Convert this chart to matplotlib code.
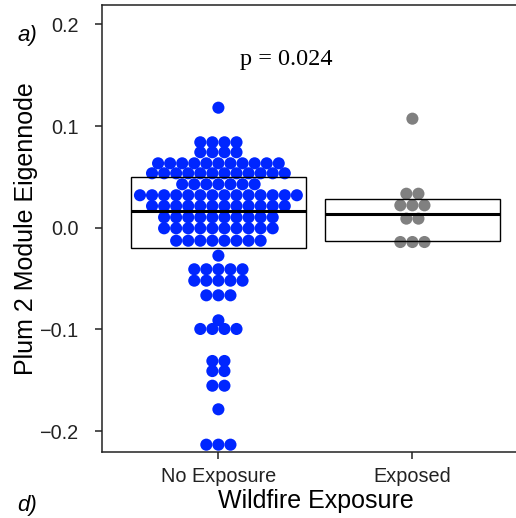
import numpy as np
import matplotlib
matplotlib.use("Agg")
import matplotlib.pyplot as plt

plt.rcParams['font.family'] = ['Liberation Sans', 'DejaVu Sans']

groups = ["No Exposure", "Exposed"]
colors = ["#0026ff", "#808080"]

# eigennode values (one entry per dot)
no_exposure = ([0.118] * 1 + [0.084] * 4 + [0.0742] * 4 + [0.0633] * 11 +
               [0.0535] * 12 + [0.0427] * 7 + [0.0319] * 14 + [0.0213] * 12 +
               [0.0102] * 10 + [-0.0006] * 10 + [-0.0128] * 8 + [-0.0275] * 1 +
               [-0.0409] * 5 + [-0.0521] * 5 + [-0.0665] * 3 + [-0.0911] * 1 +
               [-0.0996] * 4 + [-0.1311] * 2 + [-0.141] * 2 + [-0.1554] * 2 +
               [-0.1786] * 1 + [-0.2134] * 3)
exposed = ([0.1072] * 1 + [0.0334] * 2 + [0.022] * 3 + [0.0089] * 2 +
           [-0.0141] * 3)

# crossbar: lower, middle, upper
box_low = [-0.020, -0.0128]
box_mid = [0.0167, 0.0138]
box_high = [0.0496, 0.0279]

p_text = "p = 0.024"

fig = plt.figure(figsize=(5.16, 5.18), dpi=100)
ax = fig.add_axes([102 / 516, 66 / 518, 426.8 / 516, 447 / 518])

spacing = 0.0622
for i, vals in enumerate([no_exposure, exposed]):
    pos = i + 1
    levels, counts = np.unique(vals, return_counts=True)
    xs, ys = [], []
    for lv, n in zip(levels, counts):
        offs = (np.arange(n) - (n - 1) / 2) * spacing
        xs.extend(pos + offs)
        ys.extend([lv] * n)
    ax.scatter(xs, ys, s=76, color=colors[i], edgecolors="none", zorder=2)

    # box
    ax.add_patch(plt.Rectangle((pos - 0.45, box_low[i]), 0.9, box_high[i] - box_low[i],
                               fill=False, edgecolor="black", linewidth=1.0, zorder=3))
    ax.plot([pos - 0.45, pos + 0.45], [box_mid[i]] * 2, color="black", linewidth=2.2,
            solid_capstyle="butt", zorder=3)

ax.set_xlim(0.4, 2.6)
ax.set_ylim(-0.2206, 0.219)
ax.set_xticks([1, 2])
ax.set_xticklabels(groups)
ax.set_yticks([-0.2, -0.1, 0.0, 0.1, 0.2])
ax.set_yticklabels(["\u22120.2", "\u22120.1", "0.0", "0.1", "0.2"])

for sp in ax.spines.values():
    sp.set_linewidth(1.1)
    sp.set_color("#222222")
ax.tick_params(axis="both", length=5, width=1.1, color="#222222", labelsize=14.3,
               labelcolor="#222222")
ax.tick_params(axis="y", pad=12)
ax.tick_params(axis="x", pad=6)

ax.set_xlabel("Wildfire Exposure", fontsize=18, labelpad=2)
ax.set_ylabel("Plum 2 Module Eigennode", fontsize=18, labelpad=1)

ax.text(1.351, 0.165, p_text, fontsize=17.5, family="Liberation Serif",
        ha="center", va="center")

fig.text(27 / 516, 1 - 36 / 518, "a)", fontsize=16, style="italic", ha="center", va="center")
fig.text(27 / 516, 1 - 505 / 518, "d)", fontsize=16, style="italic", ha="center", va="center")

fig.savefig("out.png", dpi=100)
